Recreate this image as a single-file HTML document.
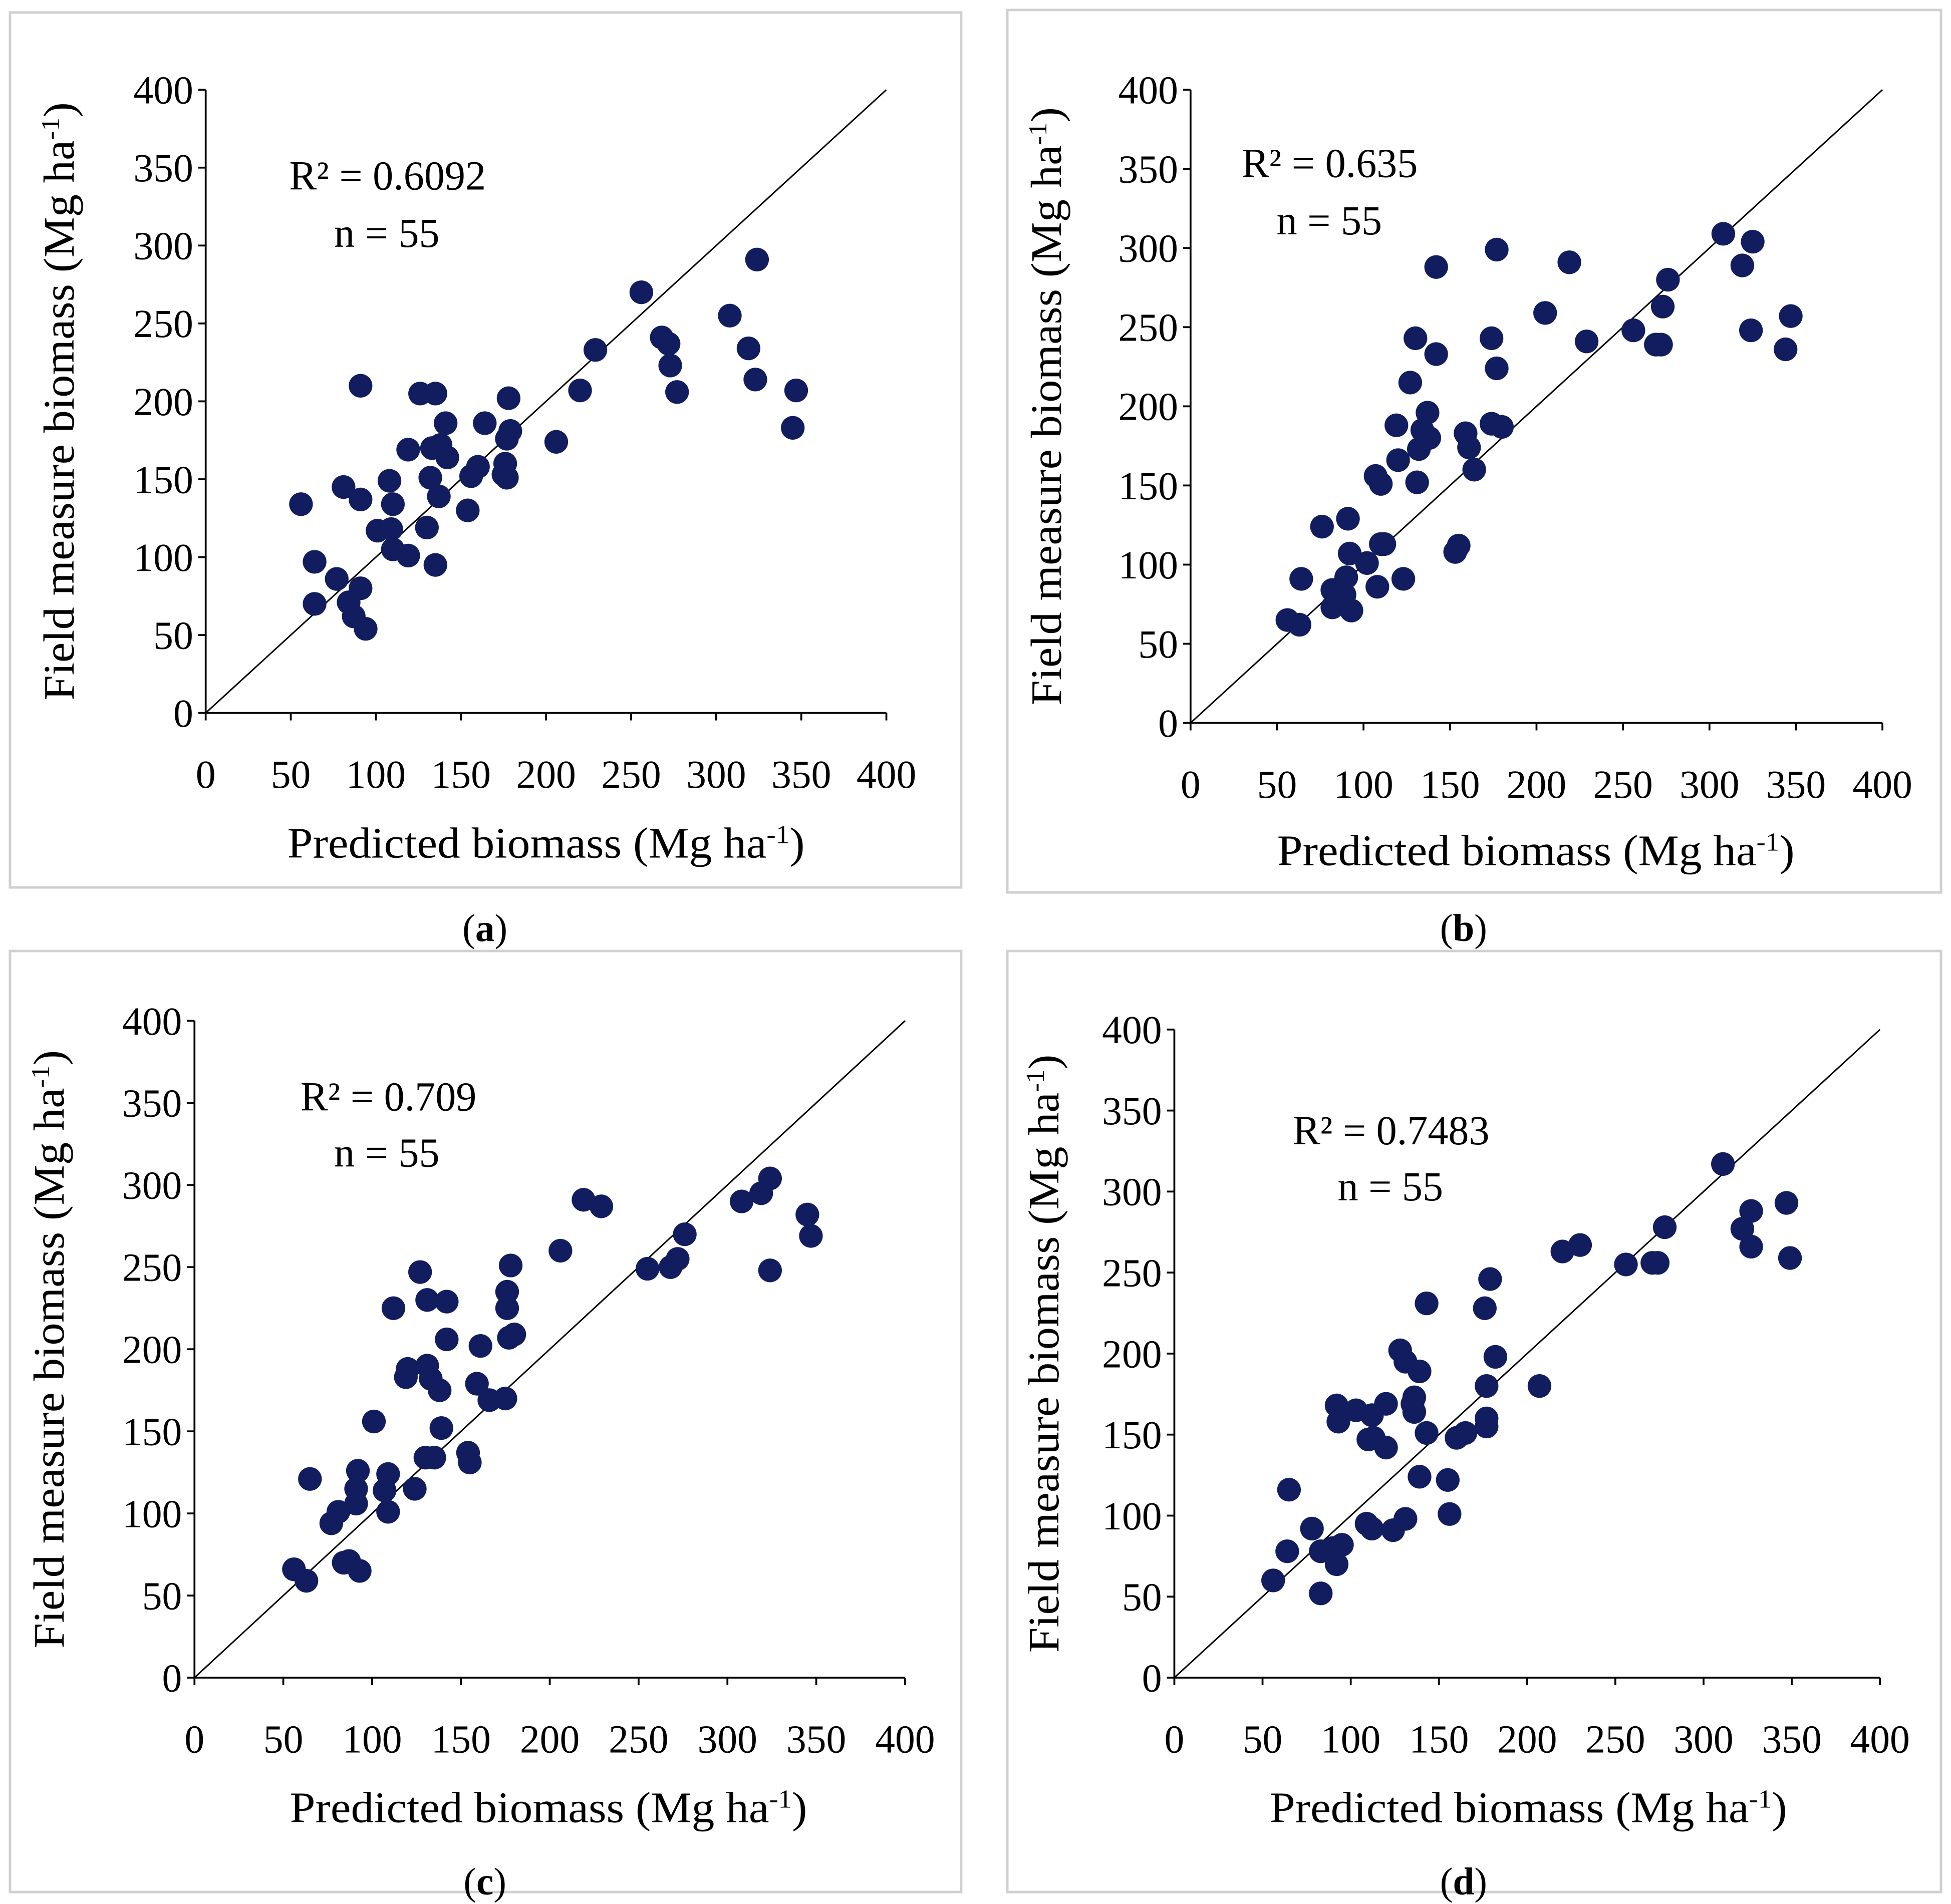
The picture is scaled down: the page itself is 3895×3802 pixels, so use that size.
<!DOCTYPE html>
<html><head><meta charset="utf-8"><style>
html,body{margin:0;padding:0;background:#fff}
svg{display:block}
text{font-family:"Liberation Serif","DejaVu Serif",serif;fill:#000}
</style></head><body>
<svg id="fig" width="3895" height="3802" viewBox="0 0 1565 1527.6" preserveAspectRatio="none" xmlns="http://www.w3.org/2000/svg"></svg>
<script>
const ticks=[0,50,100,150,200,250,300,350,400];
const r2Labels=["R² = 0.6092","R² = 0.635","R² = 0.709","R² = 0.7483"];
const nLabel="n = 55";
const captions=["a","b","c","d"];
const xA=[56,64,64,77,81,84,87,91,91,91,94,101,108,110,109,110,119,119,126,130,132,133,135,135,137,138,141,142,154,156,160,164,175,176,177,177,178,179,206,220,229,256,268,272,273,277,308,319,323,324,347,345];
const yA=[134,97,70,86,145,71,62,137,80,210,54,117,149,134,118,105,101,169,205,119,151,170,205,95,139,172,186,164,130,152,158,186,153,160,176,151,202,181,174,207,233,270,241,237,223,206,255,234,214,291,207,183];
const xB=[56,63,64,76,82,82,89,91,92,90,93,102,107,108,110,110,112,119,120,123,127,130,131,132,134,137,138,142,142,153,155,159,161,164,174,177,174,180,177,205,219,229,256,269,272,273,276,308,319,325,324,344,347];
const yB=[65,62,91,124,73,84,81,129,107,92,71,101,156,86,151,113,113,188,166,91,215,243,152,173,185,196,180,288,233,108,112,183,174,160,243,224,189,187,299,259,291,241,248,239,239,263,280,309,289,304,248,236,257];
const xC=[56,63,65,77,81,84,87,91,91,92,93,101,107,109,109,112,119,120,124,127,130,131,131,133,135,138,139,142,142,154,155,159,161,166,175,176,177,176,178,180,206,219,229,255,268,272,276,308,319,324,324,345,347];
const yC=[66,59,121,94,101,70,71,106,115,126,65,156,114,124,101,225,183,188,115,247,134,230,190,182,134,175,152,229,206,137,131,179,202,169,170,225,207,235,251,209,260,291,287,249,250,255,270,290,295,304,248,282,269];
const xD=[56,64,65,78,83,83,90,92,92,93,95,103,109,112,110,112,113,120,120,124,128,131,131,135,136,136,139,139,143,143,155,156,160,165,176,177,177,177,179,182,207,220,230,256,271,274,278,311,322,327,327,347,349];
const yD=[60,78,116,92,78,52,80,70,168,158,82,165,95,92,147,162,148,169,142,91,202,98,195,169,173,164,124,189,151,231,122,101,148,151,228,180,160,155,246,198,180,263,267,255,256,256,278,317,277,266,288,293,259];
const seriesX=[xA,xB,xC,xD], seriesY=[yA,yB,yC,yD];
const panels=[
 {frame:[8,10,763,702],x0:165,x1:711,y0:572,y1:72,r2:[232,141],n:[268,187],ytX:48,xt:[438,677],cap:[389,745]},
 {frame:[808,8,749,708],x0:955,x1:1510,y0:580,y1:72,r2:[996,131],n:[1024,177],ytX:840,xt:[1232,683],cap:[1174,745]},
 {frame:[8,763,763,755],x0:156,x1:726,y0:1346,y1:819,r2:[241,880],n:[268,925],ytX:40,xt:[440,1451],cap:[389,1510]},
 {frame:[808,763,749,755],x0:942,x1:1508,y0:1346,y1:826,r2:[1037,907],n:[1073,952],ytX:838,xt:[1226,1451],cap:[1174,1510]}
];
const NS="http://www.w3.org/2000/svg";
const svg=document.getElementById('fig');
function mk(tag,attrs,parent,txt){const e=document.createElementNS(NS,tag);for(const k in attrs)e.setAttribute(k,attrs[k]);if(txt!==undefined)e.textContent=txt;(parent||svg).appendChild(e);return e;}
panels.forEach((p,i)=>{
 const g=mk('g',{});
 
 
 const sx=v=>p.x0+(v/400)*(p.x1-p.x0);
 const sy=v=>p.y0-(v/400)*(p.y0-p.y1);
 const fr=mk('rect',{x:p.frame[0],y:p.frame[1],width:p.frame[2],height:p.frame[3],fill:'none',stroke:'#d0d0d0','stroke-width':2},g);
 
 
 const dg=mk('line',{x1:sx(0),y1:sy(0),x2:sx(400),y2:sy(400),stroke:'#000','stroke-width':1.2},g);
 
 
 const xa=mk('line',{x1:sx(0),y1:sy(0),x2:sx(400),y2:sy(0),stroke:'#000','stroke-width':1.5},g);
 
 
 const ya=mk('line',{x1:sx(0),y1:sy(0),x2:sx(0),y2:sy(400),stroke:'#000','stroke-width':1.5},g);
 
 
 ticks.forEach(t=>{
  mk('line',{x1:sx(t),y1:sy(0),x2:sx(t),y2:sy(0)+6,stroke:'#000','stroke-width':1.5},g);
  mk('line',{x1:sx(0)-6,y1:sy(t),x2:sx(0),y2:sy(t),stroke:'#000','stroke-width':1.5},g);
  const xl=mk('text',{x:sx(t),y:sy(0)+60,'text-anchor':'middle','font-size':32},g,String(t));
  
  
  const yl=mk('text',{x:sx(0)-10,y:sy(t)+11,'text-anchor':'end','font-size':32},g,String(t));
  
  
 });
 const xs=seriesX[i], ys=seriesY[i];
 for(let k=0;k<Math.min(xs.length,ys.length);k++){
  const c=mk('circle',{cx:sx(xs[k]),cy:sy(ys[k]),r:9.5,fill:'#111d5e'},g);
  
  
 }
 const r=mk('text',{x:p.r2[0],y:p.r2[1]+11,'font-size':33},g,r2Labels[i]);
 
 
 const n=mk('text',{x:p.n[0],y:p.n[1]+11,'font-size':33},g,nLabel);
 
 
 const cy=(p.y0+p.y1)/2;
 const yt=mk('text',{x:p.ytX,y:cy,'text-anchor':'middle','font-size':35,textLength:480,lengthAdjust:'spacingAndGlyphs',transform:`rotate(-90 ${p.ytX} ${cy})`,dy:11},g);
 
 
 yt.innerHTML='Field measure biomass (Mg ha<tspan baseline-shift="super" font-size="21">-1</tspan>)';
 const xt=mk('text',{x:p.xt[0],y:p.xt[1]+11,'text-anchor':'middle','font-size':35,textLength:415,lengthAdjust:'spacingAndGlyphs'},g);
 
 
 xt.innerHTML='Predicted biomass (Mg ha<tspan baseline-shift="super" font-size="21">-1</tspan>)';
 const cp=mk('text',{x:p.cap[0],y:p.cap[1]+10,'text-anchor':'middle','font-size':31},g);
 
 
 cp.innerHTML='(<tspan font-weight="bold">'+captions[i]+'</tspan>)';
});
</script>
</body></html>
